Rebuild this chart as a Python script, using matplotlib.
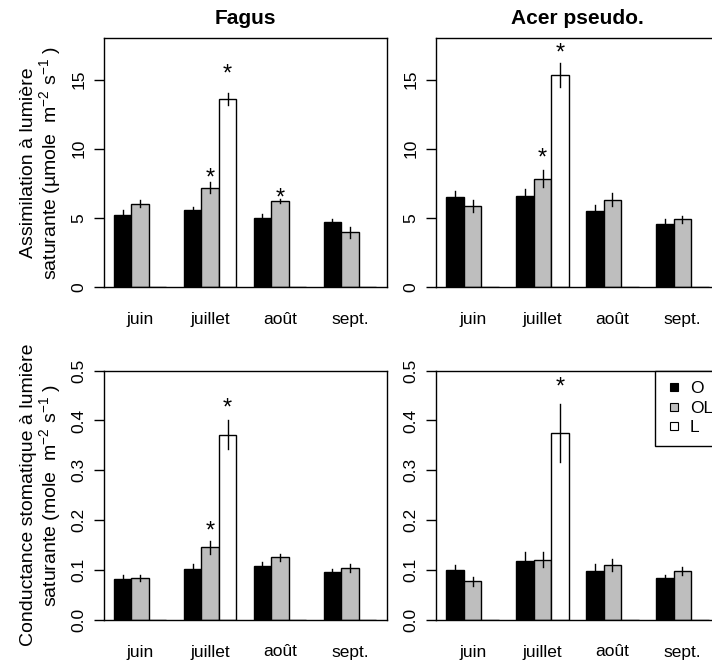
import matplotlib
matplotlib.use('Agg')
import matplotlib.pyplot as plt
from matplotlib.lines import Line2D
from matplotlib.transforms import offset_copy
import numpy as np

plt.rcParams['font.family'] = ['Liberation Sans', 'DejaVu Sans']
plt.rcParams['mathtext.fontset'] = 'custom'
plt.rcParams['mathtext.rm'] = 'Liberation Sans'
plt.rcParams['mathtext.it'] = 'Liberation Sans:italic'

months = ['juin', 'juillet', 'août', 'sept.']
treatments = ['O', 'OL', 'L']
bar_colors = ['black', '#bebebe', 'white']

# assimilation at saturating light (umol m-2 s-1)
fagus_assim = [[5.19, 5.55, 5.00, 4.68],
               [6.04, 7.20, 6.25, 3.96],
               [np.nan, 13.60, np.nan, np.nan]]
fagus_assim_se = [[0.40, 0.22, 0.30, 0.28],
                  [0.27, 0.38, 0.15, 0.38],
                  [np.nan, 0.45, np.nan, np.nan]]
acer_assim = [[6.55, 6.57, 5.51, 4.54],
              [5.85, 7.85, 6.33, 4.90],
              [np.nan, 15.31, np.nan, np.nan]]
acer_assim_se = [[0.43, 0.53, 0.46, 0.41],
                 [0.43, 0.60, 0.48, 0.27],
                 [np.nan, 0.87, np.nan, np.nan]]

# stomatal conductance at saturating light (mol m-2 s-1)
fagus_cond = [[0.081, 0.102, 0.108, 0.095],
              [0.083, 0.145, 0.125, 0.103],
              [np.nan, 0.371, np.nan, np.nan]]
fagus_cond_se = [[0.0075, 0.010, 0.008, 0.007],
                 [0.006, 0.013, 0.007, 0.008],
                 [np.nan, 0.029, np.nan, np.nan]]
acer_cond = [[0.099, 0.118, 0.098, 0.083],
             [0.077, 0.120, 0.109, 0.097],
             [np.nan, 0.375, np.nan, np.nan]]
acer_cond_se = [[0.011, 0.017, 0.014, 0.007],
                [0.009, 0.015, 0.012, 0.008],
                [np.nan, 0.058, np.nan, np.nan]]

# significance stars: (month, treatment, height)
fagus_assim_sig = [(1, 1, 8.14), (1, 2, 15.62), (2, 1, 6.69)]
acer_assim_sig = [(1, 1, 9.59), (1, 2, 17.2)]
fagus_cond_sig = [(1, 1, 0.184), (1, 2, 0.433)]
acer_cond_sig = [(1, 2, 0.475)]

fig = plt.figure(figsize=(7.12, 6.64), dpi=100)

W, H = 712.0, 664.0
def panel(left, top, right, bottom):
    return fig.add_axes([left / W, 1 - bottom / H, (right - left) / W, (bottom - top) / H])


def barpanel(ax, means, ses, sigs, ymax, yticks, yticklabels):
    means = np.array(means, dtype=float)
    ses = np.array(ses, dtype=float)
    for t in range(3):
        x = 1.5 + 4 * np.arange(4) + t
        h = np.nan_to_num(means[t])
        ax.bar(x, h, width=1.0, color=bar_colors[t], edgecolor='black',
               linewidth=1.0, zorder=2)
        for xi, m, s in zip(x, means[t], ses[t]):
            if np.isfinite(m) and np.isfinite(s):
                ax.plot([xi, xi], [m - s, m + s], color='black', lw=1.0, zorder=3)
    # the asterisk glyph sits high in its box, so nudge it down a little
    star_tr = offset_copy(ax.transData, fig=fig, y=-4, units='dots')
    for g, t, y in sigs:
        ax.text(1.5 + 4 * g + t, y, '*', ha='center', va='center',
                fontsize=17, zorder=4, transform=star_tr)
    ax.set_xlim(0.4, 16.6)
    ax.set_ylim(0, ymax)
    ax.set_xticks(2.5 + 4 * np.arange(4))
    ax.set_xticklabels(months, fontsize=12.5)
    ax.tick_params(axis='x', length=0, pad=18)
    ax.set_yticks(yticks)
    ax.set_yticklabels(yticklabels, fontsize=12.5, rotation=90, va='center')
    ax.tick_params(axis='y', length=7.5, width=1.0, pad=5)
    for sp in ax.spines.values():
        sp.set_linewidth(1.0)


ax1 = panel(103.5, 38, 386.5, 287.3)
ax2 = panel(436, 38, 719, 287.3)
ax3 = panel(103.5, 370.7, 386.5, 619.5)
ax4 = panel(436, 370.7, 719, 619.5)

atick = [0, 5, 10, 15]
ctick = [0, 0.1, 0.2, 0.3, 0.4, 0.5]
barpanel(ax1, fagus_assim, fagus_assim_se, fagus_assim_sig, 18, atick, [str(v) for v in atick])
barpanel(ax2, acer_assim, acer_assim_se, acer_assim_sig, 18, atick, [str(v) for v in atick])
barpanel(ax3, fagus_cond, fagus_cond_se, fagus_cond_sig, 0.5, ctick, ['%.1f' % v for v in ctick])
barpanel(ax4, acer_cond, acer_cond_se, acer_cond_sig, 0.5, ctick, ['%.1f' % v for v in ctick])

ax1.set_title('Fagus', fontsize=15, fontweight='bold', pad=10)
ax2.set_title('Acer pseudo.', fontsize=15, fontweight='bold', pad=10)

ax1.set_ylabel('Assimilation à lumière\nsaturante (µmole  m$^{-2}$ s$^{-1}$ )',
               fontsize=14, linespacing=1.0)
ax3.set_ylabel('Conductance stomatique à lumière\nsaturante (mole  m$^{-2}$ s$^{-1}$ )',
               fontsize=14, linespacing=1.0)
ax1.yaxis.set_label_coords(-0.142, 0.5)
ax3.yaxis.set_label_coords(-0.142, 0.5)

handles = [Line2D([], [], linestyle='none', marker='s', markersize=6,
                  markerfacecolor=c, markeredgecolor='black', markeredgewidth=0.8)
           for c in bar_colors]
leg = ax4.legend(handles, treatments, loc='upper left', bbox_to_anchor=(0.774, 1.0),
                 borderaxespad=0, fontsize=12.5, frameon=True, fancybox=False,
                 framealpha=1, edgecolor='black', handlelength=1.0,
                 handletextpad=0.4, labelspacing=0.25, borderpad=0.6)
leg.get_frame().set_linewidth(1.0)

fig.savefig('out.png', dpi=100)
